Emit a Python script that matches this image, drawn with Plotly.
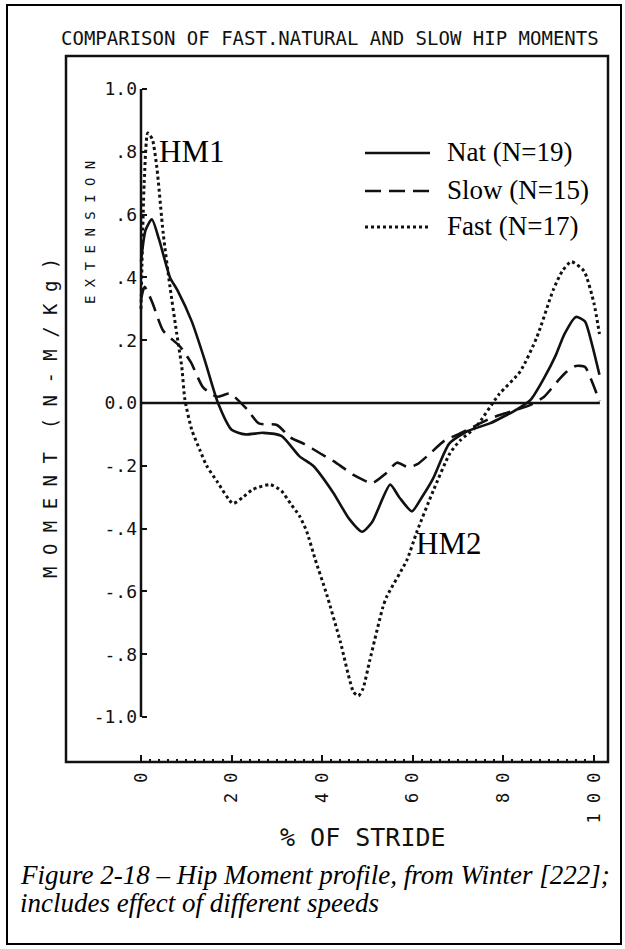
import plotly.graph_objects as go

# ---------------- data ----------------
stride_nat = [0, 1, 2.4, 4, 6.4, 8, 11.2, 14, 17, 20, 23, 27, 31, 35, 38, 42.4, 46, 48.8,
              51, 55, 57, 59.8, 62, 64.5, 68, 72, 77, 83, 86, 89, 91.5, 93.5, 96, 98, 99.5, 101.2]
moment_nat = [0.45, 0.55, 0.585, 0.52, 0.40, 0.36, 0.26, 0.14, 0.0, -0.085, -0.10, -0.095, -0.105,
              -0.17, -0.20, -0.285, -0.37, -0.41, -0.38, -0.26, -0.30, -0.345, -0.30, -0.24, -0.13,
              -0.09, -0.065, -0.02, 0.01, 0.08, 0.15, 0.22, 0.274, 0.26, 0.19, 0.09]

stride_slow = [0, 0.8, 2.5, 4.9, 8.6, 11, 13.7, 16.8, 19.6, 23.4, 26, 30, 33, 36, 39.5, 43, 47,
               51, 54, 56.5, 59, 61, 63.5, 67, 70, 77, 81, 86, 89, 92, 94, 96, 98, 99.5, 101.2]
moment_slow = [0.33, 0.37, 0.32, 0.23, 0.18, 0.13, 0.05, 0.02, 0.03, -0.02, -0.065, -0.07, -0.11,
               -0.13, -0.16, -0.19, -0.23, -0.255, -0.225, -0.19, -0.205, -0.195, -0.165, -0.12,
               -0.10, -0.05, -0.03, -0.006, 0.02, 0.07, 0.10, 0.118, 0.115, 0.07, 0.006]

stride_fast = [0, 0.7, 1.5, 2.5, 3.5, 4.9, 6.4, 7.9, 9, 9.7, 11.2, 13, 14.5, 16.8, 20.3, 22.5,
               24.7, 28.5, 31, 33, 35, 36.6, 38.5, 41, 44, 46.9, 48, 49, 50.5, 53.4, 54.3, 58.7,
               60.9, 64.5, 68.2, 70.4, 74, 79, 83.7, 87.4, 91, 93, 95, 97.8, 100, 101.2]
moment_fast = [0.30, 0.70, 0.86, 0.84, 0.75, 0.54, 0.37, 0.22, 0.115, 0.01, -0.085, -0.15, -0.20,
               -0.25, -0.32, -0.30, -0.275, -0.26, -0.28, -0.32, -0.36, -0.41, -0.50, -0.61, -0.76,
               -0.92, -0.933, -0.91, -0.82, -0.65, -0.615, -0.50, -0.41, -0.28, -0.16, -0.12,
               -0.075, 0.027, 0.10, 0.21, 0.36, 0.42, 0.45, 0.42, 0.317, 0.22]

zero_x = [0, 101.3]
zero_y = [0, 0]

x_ticks = [0, 20, 40, 60, 80, 100]
x_ticktext = ["0", "2 0", "4 0", "6 0", "8 0", "1 0 0"]
x_minor = [v for v in range(2, 101, 2)]
y_ticks = [1.0, 0.8, 0.6, 0.4, 0.2, 0.0, -0.2, -0.4, -0.6, -0.8, -1.0]
y_ticktext = ["1.0", ".8", ".6", ".4", ".2", "0.0", "-.2", "-.4", "-.6", "-.8", "-1.0"]

series_names = ["Nat (N=19)", "Slow (N=15)", "Fast (N=17)"]

# ---------------- layout geometry (pixels) ----------------
W, H = 625, 949
L, R, T, B = 66, 608, 56, 762          # inner frame
X0_PX, X100_PX = 141, 594              # x=0 and x=100
Y1_PX, Y0_PX = 89, 403                 # y=1 and y=0

xu = (X100_PX - X0_PX) / 100.0
yu = (Y0_PX - Y1_PX) / 1.0
x_range = [-(X0_PX - L) / xu, 100 + (R - X100_PX) / xu]
y_range = [-(B - Y0_PX) / yu, (Y0_PX - T) / yu]


def px(x):
    return (x - L) / (R - L)


def py(y):
    return (B - y) / (B - T)


INK = "#111111"
MONO = "DejaVu Sans Mono, Liberation Mono, monospace"
SERIF = "Liberation Serif, Times New Roman, serif"

styles = [dict(dash="solid", width=2.6),
          dict(dash="16px,8px", width=2.6),
          dict(dash="3px,3px", width=3)]

fig = go.Figure()
fig.add_trace(go.Scatter(x=zero_x, y=zero_y, mode="lines",
                         line=dict(color=INK, width=2.5), showlegend=False, hoverinfo="skip"))
for xs, ys, st, nm in zip([stride_nat, stride_slow, stride_fast],
                          [moment_nat, moment_slow, moment_fast], styles, series_names):
    fig.add_trace(go.Scatter(x=xs, y=ys, mode="lines", name=nm, showlegend=False,
                             line=dict(color=INK, width=st["width"], dash=st["dash"],
                                       shape="spline", smoothing=0.6)))

shapes = [
    # inner frame
    dict(type="rect", xref="paper", yref="paper", x0=0, x1=1, y0=0, y1=1,
         line=dict(color=INK, width=2.5)),
    # y axis line from -1 to 1
    dict(type="line", xref="x", yref="y", x0=0, x1=0, y0=-1, y1=1,
         line=dict(color=INK, width=2.5)),
    # outer border
    dict(type="rect", xref="paper", yref="paper", x0=px(7), x1=px(621), y0=py(944), y1=py(5),
         line=dict(color="#000000", width=2)),
]

legend_rows = [153, 191, 227]
for yrow, st in zip(legend_rows, styles):
    shapes.append(dict(type="line", xref="paper", yref="paper",
                       x0=px(365), x1=px(430), y0=py(yrow), y1=py(yrow),
                       line=dict(color=INK, width=st["width"], dash=st["dash"])))

annotations = []
for yrow, nm in zip(legend_rows, series_names):
    annotations.append(dict(text=nm, xref="paper", yref="paper", x=px(445), y=py(yrow - 1),
                            xanchor="left", yanchor="middle", showarrow=False,
                            font=dict(family=SERIF, size=27, color="#000")))

annotations += [
    dict(text="HM1", xref="paper", yref="paper", x=px(191), y=py(152), xanchor="center",
         yanchor="middle", showarrow=False, font=dict(family=SERIF, size=31, color="#000")),
    dict(text="HM2", xref="paper", yref="paper", x=px(448), y=py(543), xanchor="center",
         yanchor="middle", showarrow=False, font=dict(family=SERIF, size=31, color="#000")),
    dict(text="COMPARISON OF FAST.NATURAL AND SLOW HIP MOMENTS", xref="paper", yref="paper",
         x=px(330), y=py(38), xanchor="center", yanchor="middle", showarrow=False,
         font=dict(family=MONO, size=19, color=INK)),
    dict(text="% OF STRIDE", xref="paper", yref="paper", x=px(363), y=py(838),
         xanchor="center", yanchor="middle", showarrow=False,
         font=dict(family=MONO, size=25, color=INK)),
    dict(text="M O M E N T  ( N - M / K g )", xref="paper", yref="paper", x=px(50), y=py(418),
         xanchor="center", yanchor="middle", textangle=-90, showarrow=False,
         font=dict(family=MONO, size=19, color=INK)),
    dict(text="E X T E N S I O N", xref="paper", yref="paper", x=px(90), y=py(233),
         xanchor="center", yanchor="middle", textangle=-90, showarrow=False,
         font=dict(family=MONO, size=14, color=INK)),
    dict(text="Figure 2-18 – Hip Moment profile, from Winter [222];", xref="paper",
         yref="paper", x=px(18), y=py(875), xanchor="left", yanchor="middle", showarrow=False,
         font=dict(family=SERIF, size=27, color="#000", style="italic")),
    dict(text="includes effect of different speeds", xref="paper", yref="paper", x=px(18),
         y=py(903), xanchor="left", yanchor="middle", showarrow=False,
         font=dict(family=SERIF, size=27, color="#000", style="italic")),
]

fig.update_layout(
    width=W, height=H, autosize=False,
    margin=dict(l=L, r=W - R, t=T, b=H - B, pad=0),
    paper_bgcolor="white", plot_bgcolor="white",
    showlegend=False,
    shapes=shapes, annotations=annotations,
    xaxis=dict(range=x_range, tickmode="array", tickvals=x_ticks, ticktext=x_ticktext,
               tickangle=-90, ticks="inside", ticklen=7, tickwidth=2, tickcolor=INK,
               showgrid=False, zeroline=False, showline=False, ticklabelstandoff=6,
               tickfont=dict(family=MONO, size=17, color=INK),
               minor=dict(tickmode="array", tickvals=x_minor, ticks="inside", ticklen=3,
                          tickwidth=1.5, tickcolor=INK, showgrid=False)),
    yaxis=dict(range=y_range, anchor="free", position=px(X0_PX), tickmode="array",
               tickvals=y_ticks, ticktext=y_ticktext, ticks="inside", ticklen=5, tickwidth=2,
               tickcolor=INK, showgrid=False, zeroline=False, showline=False,
               ticklabelstandoff=4, tickfont=dict(family=MONO, size=18, color=INK)),
)

fig.write_html("out.html")
